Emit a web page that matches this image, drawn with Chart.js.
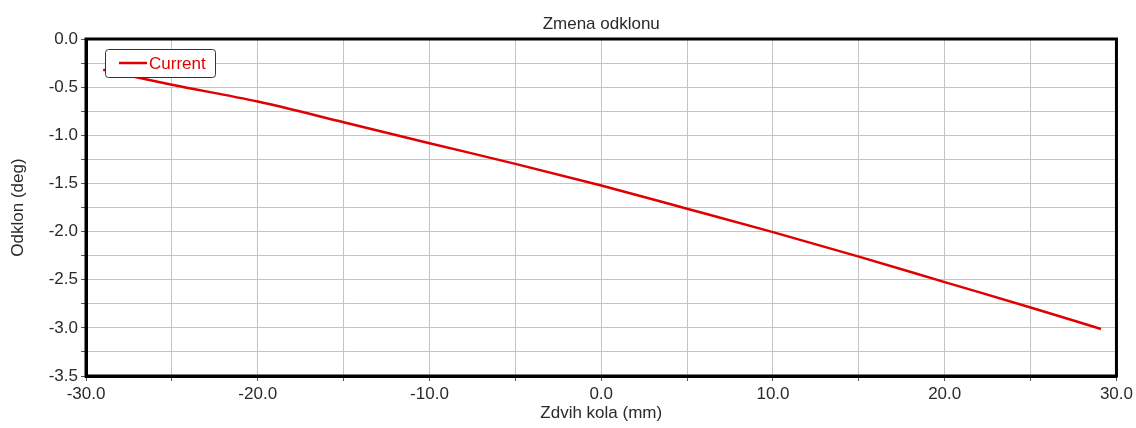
<!DOCTYPE html>
<html>
<head>
<meta charset="utf-8">
<title>Zmena odklonu</title>
<script src="https://cdn.jsdelivr.net/npm/chart.js@4.4.1/dist/chart.umd.min.js"></script>
<style>
  html, body { margin: 0; padding: 0; background: #fff; }
  #wrap { width: 1136px; height: 428px; }
</style>
</head>
<body>
<div id="wrap"><canvas id="chart_odklon"></canvas></div>
<script>
// data
const CHART_TITLE = 'Zmena odklonu';
const X_TITLE = 'Zdvih kola (mm)';
const Y_TITLE = 'Odklon (deg)';
const SERIES_LABEL = 'Current';

const ZDVIH = [ -29.0, -27.0, -25.0, -20.0, -15.0, -10.0, -5.0, 0.0, 5.0, 10.0, 15.0, 20.0, 25.0, 29.1 ];
const ODKLON = [ -0.32, -0.40, -0.475, -0.650, -0.864, -1.082, -1.297, -1.522, -1.763, -2.006, -2.260, -2.525, -2.788, -3.012 ];

const X_LABELS = [ -30, -20, -10, 0, 10, 20, 30 ];
const Y_LABELS = [ 0, -0.5, -1.0, -1.5, -2.0, -2.5, -3.0, -3.5 ];

const LINE_COLOR = '#e00000';
const TEXT_COLOR = '#2a2a2a';
const FONT = '"Liberation Sans", Arial, sans-serif';

function has_label( list, v ) {
  return list.some( x => Math.abs( x - v ) < 1e-6 );
}

// title centred over the plot, frame round the plot and the boxed legend
const frame_plugin = {
  id: 'frame_plugin',
  afterDraw( chart ) {
    const ctx = chart.ctx;
    const a = chart.chartArea;
    ctx.save();

    ctx.fillStyle = TEXT_COLOR;
    ctx.font = '17px ' + FONT;
    ctx.textAlign = 'center';
    ctx.textBaseline = 'alphabetic';
    ctx.fillText( CHART_TITLE, ( a.left + a.right ) / 2, 29 );

    ctx.strokeStyle = '#000';
    ctx.lineWidth = 3;
    ctx.strokeRect( a.left, a.top, a.right - a.left, a.bottom - a.top );

    const ds = chart.data.datasets[ 0 ];
    const bx = a.left + 19, by = a.top + 10, bw = 110, bh = 28;
    ctx.beginPath();
    ctx.roundRect( bx + 0.5, by + 0.5, bw, bh, 3 );
    ctx.fillStyle = '#fff';
    ctx.fill();
    ctx.lineWidth = 1;
    ctx.strokeStyle = '#333';
    ctx.stroke();

    ctx.beginPath();
    ctx.moveTo( bx + 14, by + bh / 2 );
    ctx.lineTo( bx + 42, by + bh / 2 );
    ctx.strokeStyle = ds.borderColor;
    ctx.lineWidth = 2.5;
    ctx.stroke();

    ctx.fillStyle = ds.borderColor;
    ctx.textAlign = 'left';
    ctx.textBaseline = 'middle';
    ctx.fillText( ds.label, bx + 44, by + bh / 2 + 1 );
    ctx.restore();
  }
};

function create_chart( chart_id ) {
  const ctx = document.getElementById( chart_id ).getContext( '2d' );
  return new Chart( ctx, {
    type: 'line',
    data: {
      datasets: [ {
        label: SERIES_LABEL,
        data: ZDVIH.map( ( x, i ) => ( { x: x, y: ODKLON[ i ] } ) ),
        borderColor: LINE_COLOR,
        backgroundColor: LINE_COLOR,
        borderWidth: 2.5,
        pointRadius: 0,
        cubicInterpolationMode: 'monotone',
        fill: false
      } ]
    },
    options: {
      responsive: true,
      maintainAspectRatio: false,
      animation: false,
      layout: { padding: { top: 39, right: 19, left: 0, bottom: 0 } },
      plugins: {
        legend: { display: false },
        title: { display: false },
        tooltip: { enabled: false }
      },
      scales: {
        x: {
          type: 'linear',
          min: -30,
          max: 30,
          afterFit: scale => { scale.height = 52; },
          afterBuildTicks: scale => {
            scale.ticks = [];
            for ( let v = -30; v <= 30; v += 5 ) scale.ticks.push( { value: v } );
          },
          ticks: {
            autoSkip: false,
            maxRotation: 0,
            padding: 3,
            color: TEXT_COLOR,
            font: { family: FONT, size: 17 },
            callback: v => has_label( X_LABELS, v ) ? v.toFixed( 1 ) : ''
          },
          grid: { color: '#c4c4c4', lineWidth: 1, tickColor: '#555', tickLength: 5 },
          border: { display: true, color: '#000', width: 3 },
          title: {
            display: true,
            text: X_TITLE,
            color: TEXT_COLOR,
            font: { family: FONT, size: 17 },
            padding: { top: 0, bottom: 4 }
          }
        },
        y: {
          type: 'linear',
          min: -3.5,
          max: 0,
          afterFit: scale => { scale.width = 86; },
          afterBuildTicks: scale => {
            scale.ticks = [];
            for ( let k = 0; k <= 14; k++ ) scale.ticks.push( { value: -3.5 + k * 0.25 } );
          },
          ticks: {
            autoSkip: false,
            padding: 3,
            color: TEXT_COLOR,
            font: { family: FONT, size: 17 },
            callback: v => has_label( Y_LABELS, v ) ? v.toFixed( 1 ) : ''
          },
          grid: { color: '#c4c4c4', lineWidth: 1, tickColor: '#555', tickLength: 5 },
          border: { display: true, color: '#000', width: 3 },
          title: {
            display: true,
            text: Y_TITLE,
            color: TEXT_COLOR,
            font: { family: FONT, size: 17 },
            padding: { top: 8, bottom: 0 }
          }
        }
      }
    },
    plugins: [ frame_plugin ]
  } );
}

document.addEventListener( 'DOMContentLoaded', function () {
  create_chart( 'chart_odklon' );
} );
</script>
</body>
</html>
